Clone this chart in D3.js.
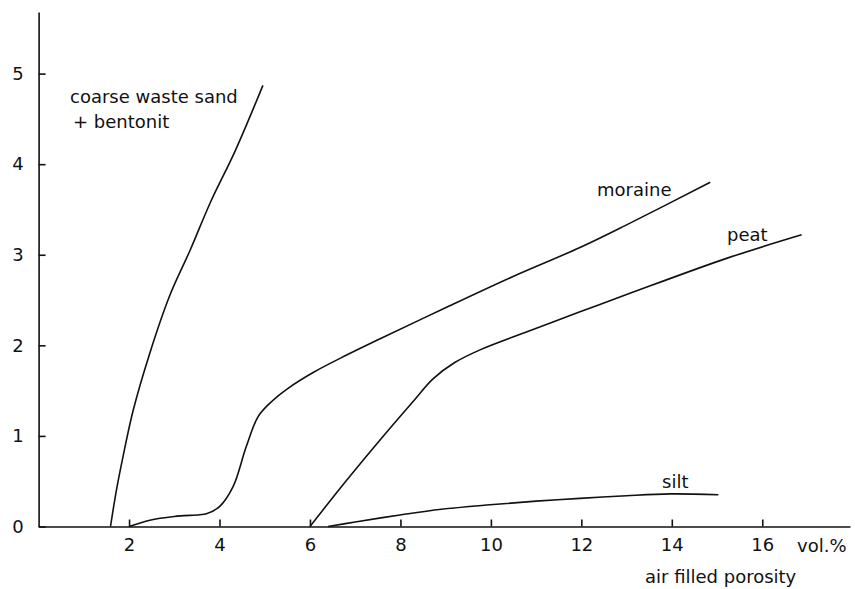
<!DOCTYPE html>
<html><head><meta charset="utf-8">
<script src="https://cdn.jsdelivr.net/npm/d3@7"></script>
<style>
body{margin:0;background:#fff;}
text{font-family:"DejaVu Sans",sans-serif;fill:#111;}
</style></head>
<body><svg id="c" width="855" height="589"></svg>
<script>
// ---- data ----
const xTicks = [2,4,6,8,10,12,14,16];
const yTicks = [0,1,2,3,4,5];
const sandX = [1.59,1.72,1.87,2.09,2.45,2.90,3.35,3.80,4.35,4.96];
const sandY = [0,0.40,0.78,1.28,1.90,2.55,3.05,3.58,4.15,4.87];
const moraineX = [2.0,2.46,3.0,3.56,3.71,4.0,4.30,4.59,4.85,5.11,5.5,6.07,6.8,7.54,9.02,10.49,11.97,13.0,14.85];
const moraineY = [0,0.07,0.11,0.13,0.14,0.22,0.44,0.88,1.21,1.36,1.52,1.70,1.89,2.07,2.42,2.76,3.08,3.33,3.80];
const peatX = [6.0,6.81,7.54,8.28,8.72,9.2,9.76,10.8,11.97,13.0,15.21,16.87];
const peatY = [0,0.51,0.95,1.38,1.63,1.81,1.95,2.15,2.37,2.56,2.96,3.22];
const siltX = [6.40,7.0,7.99,8.9,9.98,11.0,11.97,13.0,13.96,15.03];
const siltY = [0,0.05,0.127,0.19,0.24,0.28,0.31,0.34,0.36,0.35];
const labels = ["coarse waste sand","+ bentonit","moraine","peat","silt"];
const xUnit = "vol.%";
const xTitle = "air filled porosity";

const svg = d3.select("#c");
const x = d3.scaleLinear().domain([0,17.94]).range([38.6,850]);
const y = d3.scaleLinear().domain([0,5.68]).range([526.5,12]);

const fs = 18;
// axes
const gx = svg.append("g").attr("transform","translate(0,526.5)")
  .call(d3.axisBottom(x).tickValues(xTicks).tickFormat(d3.format("d")).tickSizeInner(-7).tickSizeOuter(0).tickPadding(12));
const gy = svg.append("g").attr("transform","translate(38.6,0)")
  .call(d3.axisLeft(y).tickValues(yTicks).tickFormat(d3.format("d")).tickSizeInner(-7).tickSizeOuter(0).tickPadding(15));
[gx,gy].forEach(g=>{
  g.selectAll("path,line").attr("stroke","#111").attr("stroke-width",1.6);
  g.selectAll("text").attr("font-size",fs).attr("font-family","DejaVu Sans").attr("fill","#111");
});

const line = d3.line().x(d=>x(d[0])).y(d=>y(d[1])).curve(d3.curveCatmullRom.alpha(0.5));
const series = [[sandX,sandY],[moraineX,moraineY],[peatX,peatY],[siltX,siltY]];
series.forEach(([xs,ys])=>{
  svg.append("path").datum(xs.map((v,i)=>[v,ys[i]]))
    .attr("d",line).attr("fill","none").attr("stroke","#111").attr("stroke-width",1.6);
});

const T = (s,px,py,anchor)=>svg.append("text").attr("x",px).attr("y",py)
  .attr("font-size",fs).attr("text-anchor",anchor||"start").text(s);
T(labels[0],70,103);
T(labels[1],73,128);
T(labels[2],597,196);
T(labels[3],727,241);
T(labels[4],662,488);
T(xUnit,797,552);
T(xTitle,645,583);
</script></body></html>
